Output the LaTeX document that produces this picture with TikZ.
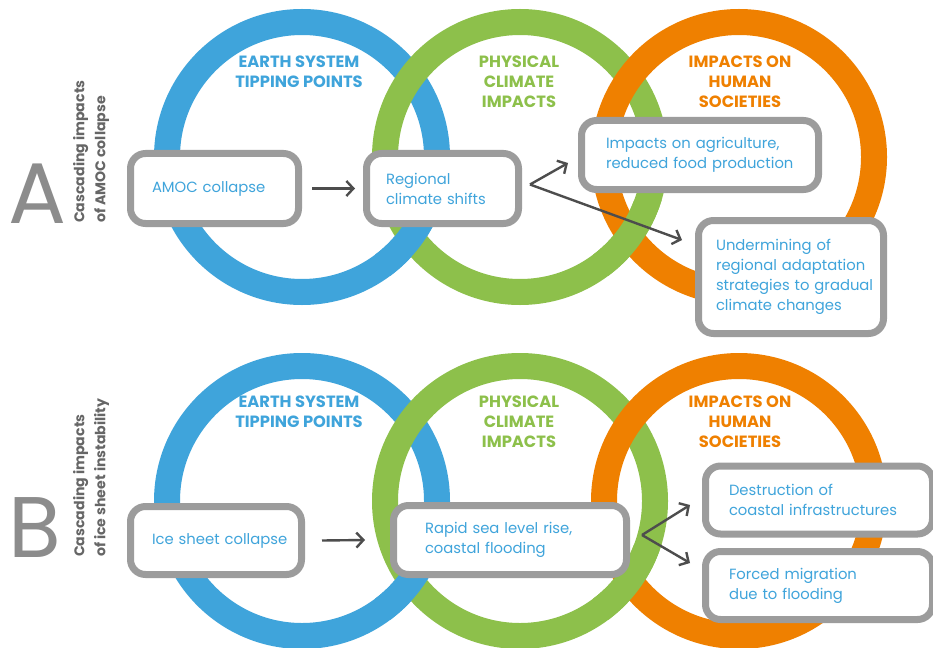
\documentclass[tikz,border=0pt]{standalone}
\usepackage{fontspec}
\setmainfont{Poppins}
\usetikzlibrary{arrows.meta,calc}
\definecolor{tblue}{HTML}{3FA4DB}
\definecolor{tgreen}{HTML}{8DC04B}
\definecolor{torange}{HTML}{EF8000}
\definecolor{bgray}{HTML}{9C9C9C}
\definecolor{agray}{HTML}{4D4D4D}
\definecolor{lgray}{HTML}{8C8C8C}
\definecolor{rgray}{HTML}{666666}
\begin{document}
\begin{tikzpicture}[x=1pt,y=-1pt,
  ring/.style={line width=26pt},
  box/.style={draw=bgray,line width=7pt,fill=white,rounded corners=15pt,align=left,
    text=tblue,font=\fontsize{14.8}{20}\selectfont,inner ysep=0pt,
    execute at begin node={\hyphenpenalty=10000\exhyphenpenalty=10000\hbadness=10000\hfuzz=100pt}},
  title/.style={align=center,font=\bfseries\fontsize{16.3}{20}\selectfont},
  arr/.style={draw=agray,line width=2.4pt,-{Straight Barb[length=7pt,width=15pt]}},
  bigletter/.style={font=\fontsize{86}{86}\selectfont,text=lgray,anchor=base,inner sep=0pt},
  sidelabel/.style={rotate=90,anchor=north west,align=left,inner sep=0pt,text=rgray,
    font=\bfseries\fontsize{14.1}{21}\selectfont}]
\useasboundingbox (0,0) rectangle (933,647);
\clip (0,0) rectangle (933,647);
\fill[white] (0,0) rectangle (933,647);

% ---------- Panel A rings ----------
\draw[ring,tblue] (302,157) circle[radius=135];
\draw[ring,tgreen] (520,157) circle[radius=135];
\draw[ring,torange] (739,157) circle[radius=135];
\begin{scope}
  \clip (375,200) rectangle (447,275);
  \draw[ring,tblue] (302,157) circle[radius=135];
\end{scope}
\begin{scope}
  \clip (593,200) rectangle (666,275);
  \draw[ring,tgreen] (520,157) circle[radius=135];
\end{scope}

% ---------- Panel B rings ----------
\draw[ring,tblue] (302,501) circle[radius=135];
\draw[ring,tgreen] (520,501) circle[radius=135];
\draw[ring,torange] (739,501) circle[radius=135];
\begin{scope}
  \clip (375,544) rectangle (447,619);
  \draw[ring,tblue] (302,501) circle[radius=135];
\end{scope}
\begin{scope}
  \clip (593,544) rectangle (666,619);
  \draw[ring,tgreen] (520,501) circle[radius=135];
\end{scope}

% ---------- Titles ----------
\node[title,text=tblue] (tA1) at (299,72) {EARTH SYSTEM\\TIPPING POINTS};
\node[title,text=tgreen] (tA2) at (519,82) {PHYSICAL\\CLIMATE\\IMPACTS};
\node[title,text=torange] (tA3) at (740,82) {IMPACTS ON\\HUMAN\\SOCIETIES};
\node[title,text=tblue] (tB1) at (299,412) {EARTH SYSTEM\\TIPPING POINTS};
\node[title,text=tgreen] (tB2) at (519,422) {PHYSICAL\\CLIMATE\\IMPACTS};
\node[title,text=torange] (tB3) at (740,422) {IMPACTS ON\\HUMAN\\SOCIETIES};

% ---------- Side labels ----------
\node[bigletter] (letA) at (37,223) {A};
\node[sidelabel] (labA) at (73,223) {Cascading impacts\\of AMOC collapse};
\node[bigletter] (letB) at (35,557) {B};
\node[sidelabel] (labB) at (73,557) {Cascading impacts\\of ice sheet instability};

% ---------- Boxes A ----------
\node[box,minimum width=168pt,minimum height=70pt,text width=125pt,inner xsep=21.5pt]
  (amoc) at (214.5,188.5) {AMOC~collapse};
\node[box,minimum width=152pt,minimum height=70pt,text width=113pt,inner xsep=19.5pt]
  (regional) at (442.5,188.5) {Regional\\climate~shifts};
\node[box,minimum width=237pt,minimum height=69pt,text width=188pt,inner xsep=24.5pt]
  (agri) at (700,155) {Impacts~on~agriculture,\\reduced~food~production};
\node[box,minimum width=185pt,minimum height=113pt,text width=150pt,inner xsep=17.5pt]
  (under) at (791,277) {Undermining~of\\regional~adaptation\\strategies~to~gradual\\climate~changes};

% ---------- Boxes B ----------
\node[box,minimum width=171pt,minimum height=68pt,text width=128pt,inner xsep=21.5pt]
  (ice) at (216,540.5) {Ice~sheet~collapse};
\node[box,minimum width=233pt,minimum height=69pt,text width=170pt,inner xsep=31.5pt]
  (rapid) at (510,540) {Rapid~sea~level~rise,\\coastal~flooding};
\node[box,minimum width=227pt,minimum height=68pt,text width=180pt,inner xsep=23.5pt]
  (destr) at (819,500) {Destruction~of\\coastal~infrastructures};
\node[box,minimum width=227pt,minimum height=68pt,text width=180pt,inner xsep=23.5pt]
  (forced) at (819,585.5) {Forced~migration\\due~to~flooding};

% ---------- Arrows ----------
\draw[arr] ($(amoc.east)+(10,0)$) -- ($(regional.west)+(-8,0)$);
\draw[arr] ($(regional.east)+(8,-4)$) -- ($(agri.west)+(-10,8)$);
\draw[arr] ($(regional.east)+(8,-4)$) -- ($(under.north west)+(-13,23)$);
\draw[arr] ($(ice.east)+(17,0)$) -- ($(rapid.west)+(-25,0)$);
\draw[arr] ($(rapid.east)+(12,-5)$) -- ($(destr.west)+(-12,5)$);
\draw[arr] ($(rapid.east)+(12,-5)$) -- ($(forced.west)+(-12,-22.5)$);
\end{tikzpicture}
\end{document}
